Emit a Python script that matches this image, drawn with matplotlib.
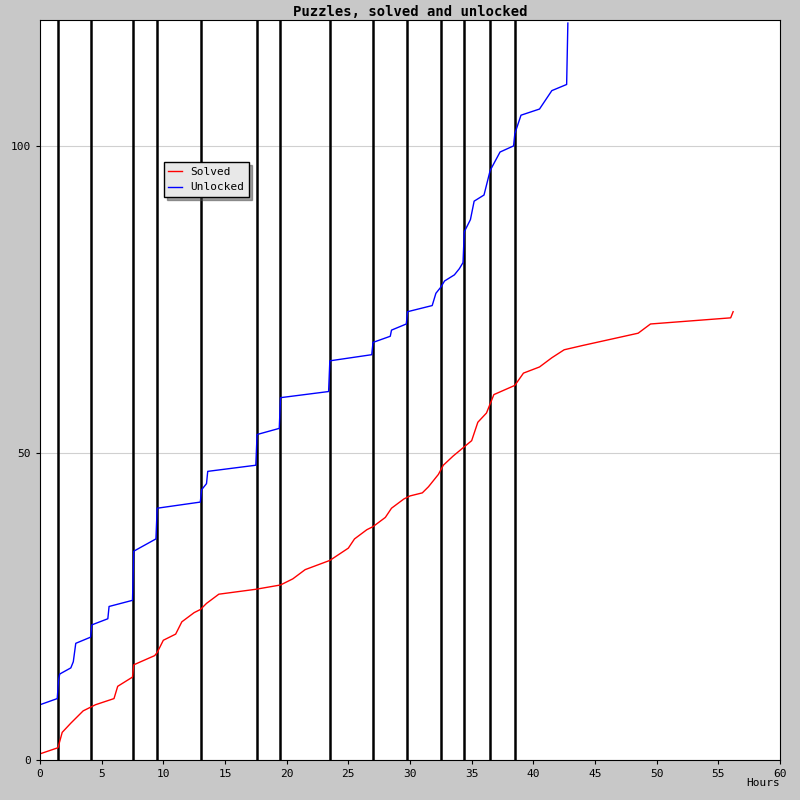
import matplotlib
matplotlib.use("Agg")
import matplotlib.pyplot as plt

plt.rcParams['font.family'] = ['DejaVu Sans Mono']

event_hours = [1.46, 4.14, 7.54, 9.49, 13.06, 17.6, 19.46, 23.5, 27.0, 29.76, 32.5, 34.4, 36.5, 38.5]

unlock_t = [0, 1.4, 1.5, 1.6, 2.5, 2.7, 2.9, 4.1, 4.2, 5.5, 5.6, 7.5, 7.6, 9.4, 9.5, 13.0, 13.1, 13.5, 13.6, 17.5,
            17.6, 19.4, 19.5, 23.4, 23.5, 26.9, 27.0, 28.4, 28.5, 29.7, 29.8, 31.8, 32.1, 32.5, 32.8, 33.6, 34.0,
            34.3, 34.4, 34.9, 35.2, 36.0, 36.5, 37.3, 38.4, 38.5, 39.0, 40.5, 41.5, 42.7, 42.8]
unlock_v = [9, 10, 13, 14, 15, 16, 19, 20, 22, 23, 25, 26, 34, 36, 41, 42, 44, 45, 47, 48,
            53, 54, 59, 60, 65, 66, 68, 69, 70, 71, 73, 74, 76, 77, 78, 79, 80,
            81, 86, 88, 91, 92, 96, 99, 100, 102, 105, 106, 109, 110, 120]

solved_t = [0, 1.46, 1.8, 2.5, 3.5, 4.5, 6, 6.3, 7.5, 7.6, 9.3, 9.5, 10, 11, 11.5, 12.5, 13, 13.5, 14.5, 17.5, 19.5, 20.5,
            21.5, 23.5, 25, 25.5, 26.5, 27, 28, 28.5, 29.5, 30, 31, 31.5, 32.3, 32.7, 33.5, 34.4, 35, 35.5, 36.2, 36.8,
            38.5, 39.2, 40.5, 41.5, 42.5, 44, 48.5, 49.5, 56, 56.2]
solved_v = [1, 2, 4.5, 6, 8, 9, 10, 12, 13.5, 15.5, 17, 17.5, 19.5, 20.5, 22.5, 24, 24.5, 25.5, 27, 27.8, 28.5, 29.5,
            31, 32.5, 34.5, 36, 37.5, 38, 39.5, 41, 42.5, 43, 43.5, 44.5, 46.5, 48, 49.5, 51, 52, 55, 56.5, 59.5,
            61, 63, 64, 65.5, 66.8, 67.5, 69.5, 71, 72, 73]

fig = plt.figure(figsize=(8, 8), dpi=100, facecolor='#c8c8c8')
ax = fig.add_axes([40/800, 40/800, 740/800, 740/800])
ax.set_xlim(0, 60)
ax.set_ylim(0, 120.5)
ax.set_yticks([0, 50, 100])
ax.set_xticks(range(0, 61, 5))
ax.grid(axis='y', color='#d0d0d0', lw=0.8)
for h in event_hours:
    ax.axvline(h, color='black', lw=1.8)
ax.plot(solved_t, solved_v, color='red', lw=1, label='Solved')
ax.plot(unlock_t, unlock_v, color='blue', lw=1, label='Unlocked')
ax.tick_params(labelsize=8, length=3)
ax.text(1.0, -0.025, 'Hours', transform=ax.transAxes, ha='right', va='top', fontsize=8)
ax.set_title('Puzzles, solved and unlocked', fontsize=10, fontweight='bold', pad=3)
ax.legend(loc='upper left', bbox_to_anchor=(0.16, 0.815), fontsize=8, fancybox=False,
          shadow=True, edgecolor='black', framealpha=1, handlelength=1.2, facecolor='#e8e8e8')
fig.savefig('out.png', facecolor=fig.get_facecolor())
